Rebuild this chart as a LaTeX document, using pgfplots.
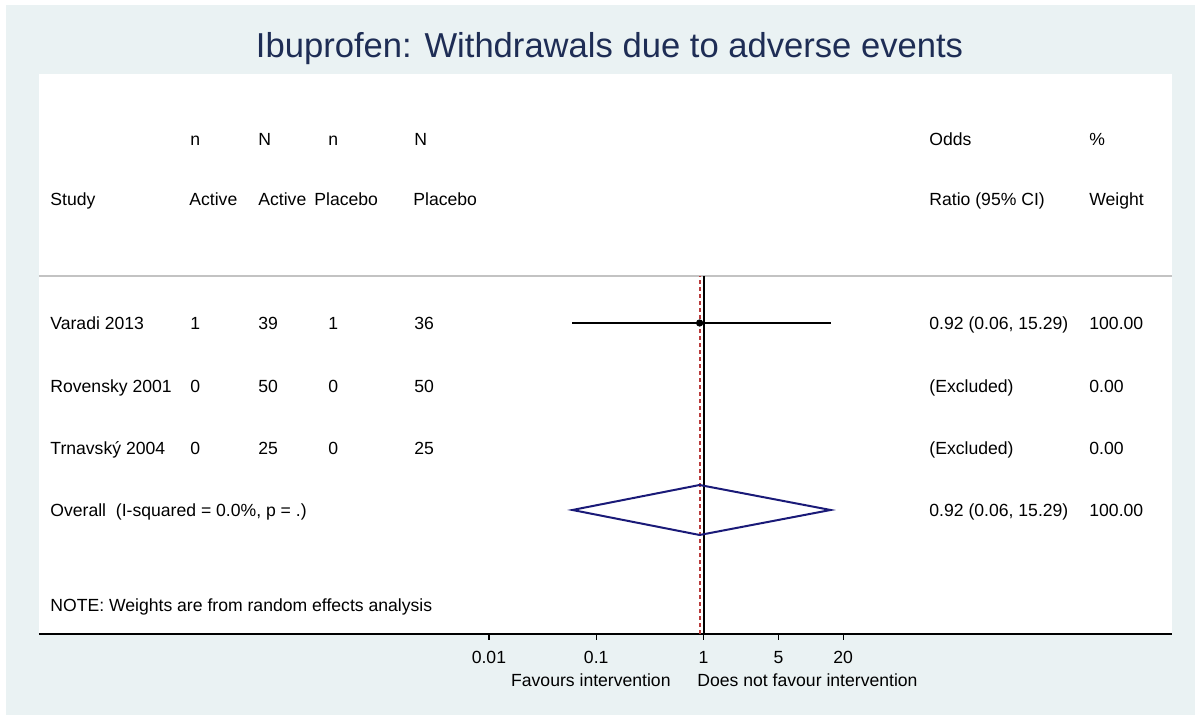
\documentclass[border=0pt]{standalone}
\usepackage{fontspec}
\setmainfont{Liberation Sans}
\usepackage{pgfplots}
\pgfplotsset{compat=1.18}

\definecolor{bgcol}{RGB}{234,242,243}
\definecolor{titlecol}{RGB}{30,45,85}
\definecolor{diamcol}{RGB}{26,26,120}
\definecolor{nullcol}{RGB}{185,60,60}
\definecolor{sepcol}{RGB}{195,195,195}

\newcommand{\bodyfont}{\fontsize{8.8}{10}\selectfont}

\begin{document}
\begin{tikzpicture}
\useasboundingbox (0,0) rectangle (597.5pt,357.5pt);
\fill[white] (0,0) rectangle (597.5pt,357.5pt);
\fill[bgcol] (3pt,0) rectangle (597.5pt,355pt);
\fill[white] (19.5pt,40.5pt) rectangle (586pt,320.5pt);

\begin{axis}[
    at={(19.5pt,40.5pt)}, anchor=south west,
    scale only axis, width=566.5pt, height=280pt,
    xmode=log, xmin=6.41e-7, xmax=23227,
    ymin=0, ymax=560,
    axis x line*=bottom, axis y line=none,
    axis line style={black, line width=1pt},
    xtick={0.01,0.1,1,5,20},
    xticklabels={0.01,0.1,1,5,20},
    xminorticks=false,
    tick align=outside, major tick length=3pt,
    xtick style={black, line width=0.6pt},
    xticklabel style={font=\bodyfont, anchor=base, yshift=-12pt},
    clip=false,
]
% separator under the header
\addplot[sepcol, line width=1pt] coordinates {(6.41e-7,358) (23227,358)};
% line of no effect and overall estimate
\addplot[black, line width=1pt] coordinates {(1,0) (1,358)};
\addplot[draw=nullcol, line width=1pt, dash pattern=on 2.2pt off 1.3pt] coordinates {(0.92,0) (0.92,358)};
% Varadi 2013
\addplot[black, line width=1pt] coordinates {(0.06,311) (15.29,311)};
\addplot[only marks, mark=*, mark size=1.6pt, black] coordinates {(0.92,311)};
% overall diamond
\addplot[diamcol, line width=1pt] coordinates {(0.06,124) (0.92,149) (15.29,124) (0.92,99)} -- cycle;
\end{axis}

\begin{scope}[x=0.5pt, y=-0.5pt, shift={(0pt,357.5pt)},
    every node/.style={anchor=base west, inner sep=0pt, font=\bodyfont}]
\node[anchor=base, font=\fontsize{17.3}{20}\selectfont, text=titlecol] at (609.5,57.5) {Ibuprofen: Withdrawals due to adverse events};
% header
\node at (190,146) {n};
\node at (258,146) {N};
\node at (328,146) {n};
\node at (414,146) {N};
\node at (929,146) {Odds};
\node at (1089,146) {\%};
\node at (50,206) {Study};
\node at (189,206) {Active};
\node at (258,206) {Active};
\node at (314,206) {Placebo};
\node at (413,206) {Placebo};
\node at (929,206) {Ratio (95\% CI)};
\node at (1089,206) {Weight};
% rows
\node at (50,330) {Varadi 2013};
\node at (190,330) {1};
\node at (258,330) {39};
\node at (328,330) {1};
\node at (414,330) {36};
\node at (929,330) {0.92 (0.06, 15.29)};
\node at (1089,330) {100.00};
\node at (50,393) {Rovensky 2001};
\node at (190,393) {0};
\node at (258,393) {50};
\node at (328,393) {0};
\node at (414,393) {50};
\node at (929,393) {(Excluded)};
\node at (1089,393) {0.00};
\node at (50,455) {Trnavský 2004};
\node at (190,455) {0};
\node at (258,455) {25};
\node at (328,455) {0};
\node at (414,455) {25};
\node at (929,455) {(Excluded)};
\node at (1089,455) {0.00};
\node at (50,517) {Overall\ \ (I-squared = 0.0\%, p = .)};
\node at (929,517) {0.92 (0.06, 15.29)};
\node at (1089,517) {100.00};
\node at (50,612) {NOTE: Weights are from random effects analysis};
% axis captions
\node[anchor=base east] at (671,687) {Favours intervention};
\node at (697,687) {Does not favour intervention};
\end{scope}
\end{tikzpicture}
\end{document}
